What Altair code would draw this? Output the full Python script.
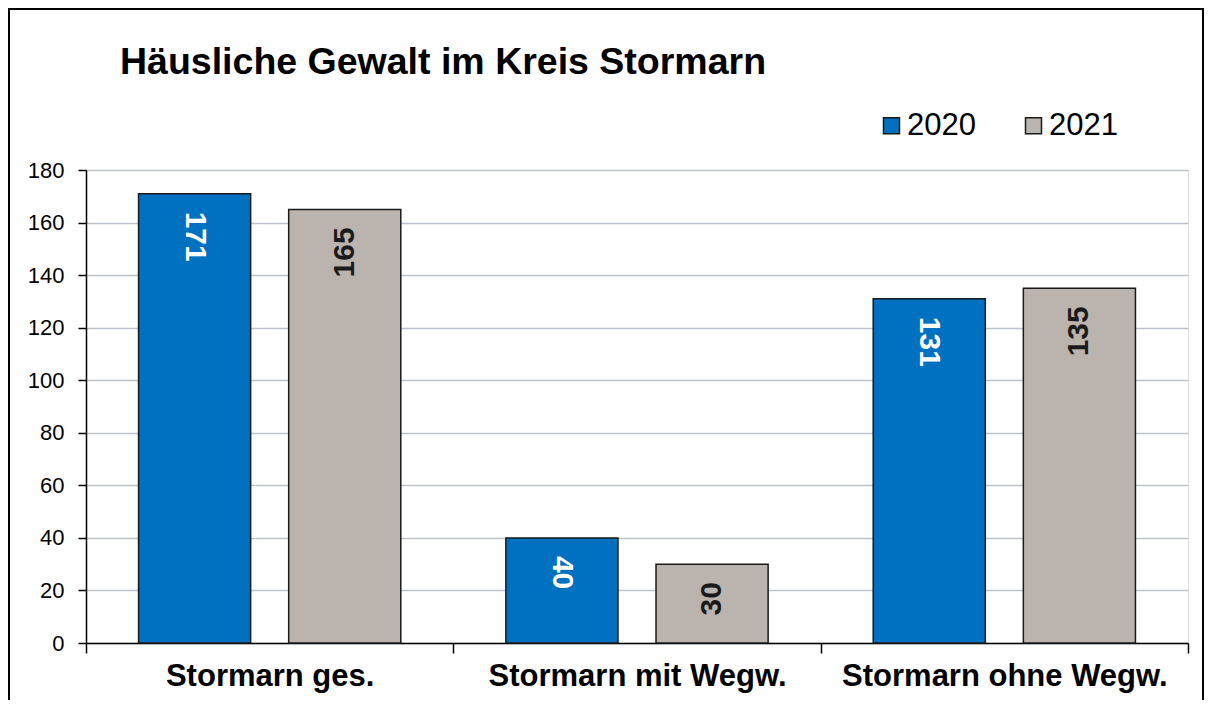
import altair as alt
import pandas as pd

categories = ["Stormarn ges.", "Stormarn mit Wegw.", "Stormarn ohne Wegw."]
years = ["2020", "2021"]
values_2020 = [171, 40, 131]
values_2021 = [165, 30, 135]
y_ticks = [0, 20, 40, 60, 80, 100, 120, 140, 160, 180]
colors = ["#0070C0", "#BBB3AE"]

rows = []
for c, v in zip(categories, values_2020):
    rows.append({"Kategorie": c, "Jahr": "2020", "Wert": v})
for c, v in zip(categories, values_2021):
    rows.append({"Kategorie": c, "Jahr": "2021", "Wert": v})
df = pd.DataFrame(rows)

FONT = "Liberation Sans"

x_enc = alt.X(
    "Kategorie:N",
    sort=categories,
    scale=alt.Scale(paddingInner=0, paddingOuter=0),
    axis=alt.Axis(
        title=None, labelAngle=0, labelFont=FONT, labelFontSize=31, labelFontWeight="bold",
        labelColor="black", domainColor="black", domainWidth=1.5, tickColor="black",
        tickWidth=1.5, tickSize=10, tickBand="extent", labelPadding=8, grid=False,
        labelLimit=0,
    ),
)
xoff_enc = alt.XOffset("Jahr:N", sort=years, scale=alt.Scale(paddingInner=0.2533, paddingOuter=0.35))
y_enc = alt.Y(
    "Wert:Q",
    scale=alt.Scale(domain=[0, 180], nice=False),
    axis=alt.Axis(
        title=None, values=y_ticks, labelFont=FONT, labelFontSize=22, labelColor="black",
        domainColor="black", domainWidth=1.5, tickColor="black", tickWidth=1.5, tickSize=8,
        labelPadding=14, grid=True, gridColor="#BCC3CA", gridWidth=1.5,
    ),
)

base = alt.Chart(df)

bars = base.mark_bar(stroke="#1a1a1a", strokeWidth=1.5).encode(
    x=x_enc,
    xOffset=xoff_enc,
    y=y_enc,
    color=alt.Color(
        "Jahr:N",
        scale=alt.Scale(domain=years, range=colors),
        legend=alt.Legend(
            title=None, orient="none", legendX=790, legendY=-60, direction="horizontal",
            symbolType="square", symbolSize=256, symbolStrokeColor="#1a1a1a", symbolStrokeWidth=1.5,
            labelFont=FONT, labelFontSize=31, labelColor="black", labelOffset=0,
            columnPadding=42, padding=0,
        ),
    ),
)

labels_2020 = base.transform_filter(alt.datum.Jahr == "2020").mark_text(
    angle=90, align="left", baseline="middle", dx=18, font=FONT, fontSize=30,
    fontWeight="bold", color="white",
).encode(x=alt.X("Kategorie:N", sort=categories), xOffset=alt.XOffset("Jahr:N", sort=years), y="Wert:Q", text="Wert:Q")

labels_2021 = base.transform_filter(alt.datum.Jahr == "2021").mark_text(
    angle=270, align="right", baseline="middle", dx=-18, font=FONT, fontSize=30,
    fontWeight="bold", color="#1a1a1a",
).encode(x=alt.X("Kategorie:N", sort=categories), xOffset=alt.XOffset("Jahr:N", sort=years), y="Wert:Q", text="Wert:Q")

frame = alt.Chart(pd.DataFrame({"f": [0]})).mark_rect(
    fill=None, stroke="black", strokeWidth=2,
).encode(x=alt.value(-77), x2=alt.value(1117), y=alt.value(-161), y2=alt.value(560))

chart = alt.layer(bars, labels_2020, labels_2021, frame).properties(
    width=1102,
    height=473,
    title=alt.Title(
        "Häusliche Gewalt im Kreis Stormarn", anchor="start", frame="group", dx=34,
        font=FONT, fontSize=37.5, fontWeight="bold", color="black", offset=0,
        baseline="alphabetic", dy=103,
    ),
    autosize=alt.AutoSizeParams(type="none"),
    padding={"left": 78, "top": 162, "right": 16, "bottom": 57},
).configure_view(stroke=None).configure(background="white")

chart.save("out.html", embed_options={"renderer": "svg", "actions": False})
